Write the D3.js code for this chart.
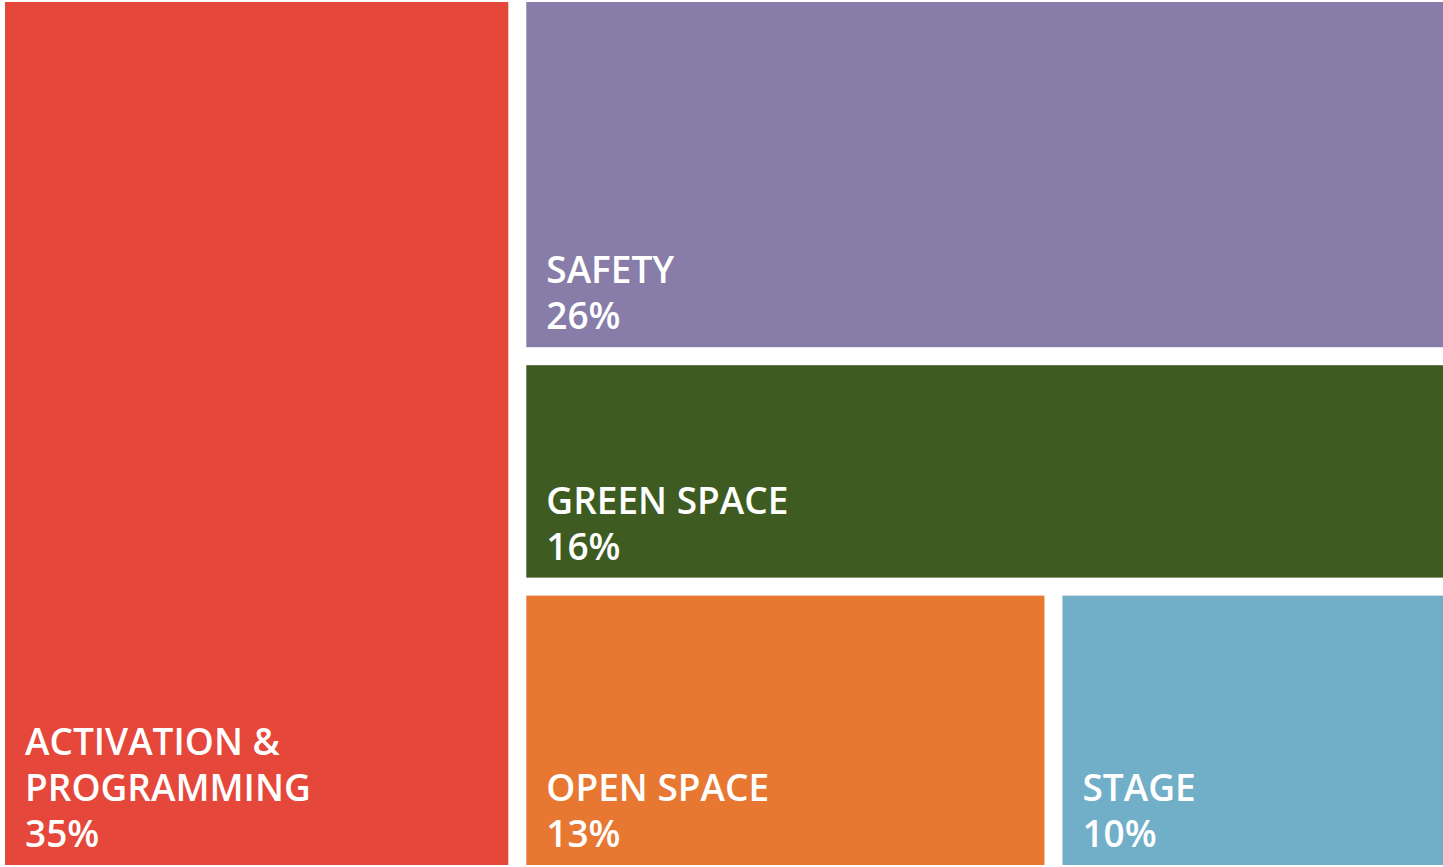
<!DOCTYPE html>
<html>
<head>
<meta charset="utf-8">
<script src="https://cdn.jsdelivr.net/npm/d3@7"></script>
<style>
  body { margin: 0; background: #fff; }
  text { font-family: 'Open Sans', sans-serif; font-weight: 600; fill: #fff; }
</style>
</head>
<body>
<div id="chart"></div>
<script>
// data
const categories = [['ACTIVATION &', 'PROGRAMMING'], ['SAFETY'], ['GREEN SPACE'], ['OPEN SPACE'], ['STAGE']]
const shares = [35, 26, 16, 13, 10]
// nesting level of each category in the treemap
const nestLevel = [1, 2, 2, 3, 3]
const colors = ['#e5473a', '#877da8', '#3e5b21', '#e87732', '#71afc9']

const width = 1443,
  height = 867
const margin = {top: 2, right: 0, bottom: 2, left: 5}
const gap = 18

// build nested tree from the flat arrays
function build(level) {
  const node = {children: []}
  categories.forEach((c, i) => {
    if (nestLevel[i] === level) node.children.push({name: c, value: shares[i], idx: i})
  })
  if (nestLevel.some(l => l > level)) node.children.push(build(level + 1))
  return node
}

// slice/dice by depth, every piece sized on the full extent, last one takes what is left
function gapTile(parent, x0, y0, x1, y1) {
  const across = parent.depth % 2 === 0
  const start = across ? x0 : y0,
    end = across ? x1 : y1
  const s = d3.scaleLinear().domain([0, parent.value]).range([0, end - start])
  let pos = start
  parent.children.forEach((k, i) => {
    const next = i === parent.children.length - 1 ? end : pos + s(k.value)
    if (across) { k.x0 = pos; k.x1 = next; k.y0 = y0; k.y1 = y1 }
    else { k.y0 = pos; k.y1 = next; k.x0 = x0; k.x1 = x1 }
    pos = next + gap
  })
}

const root = d3.hierarchy(build(1)).sum(d => d.value || 0)
d3.treemap()
  .size([width - margin.left - margin.right, height - margin.top - margin.bottom])
  .tile(gapTile)(root)

const svg = d3.select('#chart')
  .append('svg')
  .attr('width', width)
  .attr('height', height)
  .append('g')
  .attr('transform', `translate(${margin.left}, ${margin.top})`)

const cell = svg.selectAll('g.cell')
  .data(root.leaves())
  .enter().append('g')
  .attr('class', 'cell')
  .attr('transform', d => `translate(${d.x0}, ${d.y0})`)

cell.append('rect')
  .attr('width', d => d.x1 - d.x0)
  .attr('height', d => d.y1 - d.y0)
  .attr('fill', d => colors[d.data.idx])

const lineH = 46
cell.each(function(d) {
  const lines = d.data.name.concat([d.data.value + '%'])
  const h = d.y1 - d.y0
  d3.select(this).selectAll('text')
    .data(lines)
    .enter().append('text')
    .attr('x', 20)
    .attr('y', (l, i) => h - 18 - (lines.length - 1 - i) * lineH)
    .style('font-size', '37px')
    .text(l => l)
})
</script>
</body>
</html>
